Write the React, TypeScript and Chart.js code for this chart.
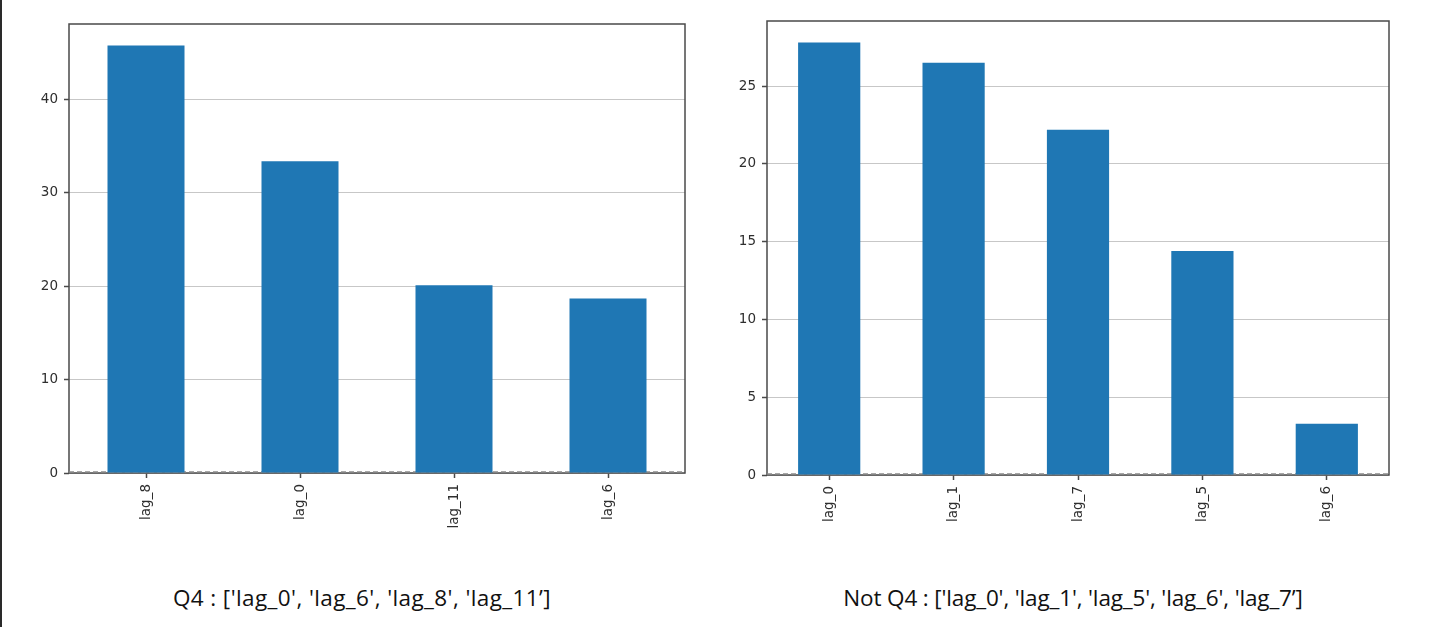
import React, { useEffect, useRef } from "react";
import { Chart, registerables } from "chart.js";

Chart.register(...registerables);

// ---- data ----
const q4Labels = ["lag_8", "lag_0", "lag_11", "lag_6"];
const q4Values = [45.8, 33.4, 20.1, 18.7];
const q4Ticks = [0, 10, 20, 30, 40];
const q4Caption = "Q4 : ['lag_0', 'lag_6', 'lag_8', 'lag_11\u2019]";

const notQ4Labels = ["lag_0", "lag_1", "lag_7", "lag_5", "lag_6"];
const notQ4Values = [27.8, 26.5, 22.2, 14.4, 3.3];
const notQ4Ticks = [0, 5, 10, 15, 20, 25];
const notQ4Caption = "Not Q4 : ['lag_0', 'lag_1', 'lag_5', 'lag_6', 'lag_7\u2019]";

const BAR_COLOR = "#1f77b4";
const SPINE = "#4a4a4a";
const TICK_TEXT = "#2e2e2e";
const GRID = "rgba(180,180,180,0.75)";

const framePlugin = {
  id: "frame",
  beforeDatasetsDraw(chart: any) {
    const { ctx, chartArea } = chart;
    const y0 = chart.scales.y.getPixelForValue(0);
    ctx.save();
    ctx.strokeStyle = SPINE;
    ctx.lineWidth = 1.5;
    ctx.strokeRect(chartArea.left, chartArea.top, chartArea.right - chartArea.left, chartArea.bottom - chartArea.top);
    ctx.strokeStyle = "#8a8a8a";
    ctx.lineWidth = 1.5;
    ctx.setLineDash([5, 3]);
    ctx.beginPath();
    ctx.moveTo(chartArea.left, y0 - 1);
    ctx.lineTo(chartArea.right, y0 - 1);
    ctx.stroke();
    ctx.restore();
  },
};

type Props = {
  labels: string[];
  values: number[];
  ticks: number[];
  left: number;
  width: number;
  height: number;
  padTop: number;
  padRight: number;
  yAxisWidth: number;
  xAxisHeight: number;
};

function BarPanel(p: Props) {
  const ref = useRef<HTMLCanvasElement | null>(null);
  useEffect(() => {
    if (!ref.current) return;
    const maxY = Math.max(...p.values) * 1.05;
    const chart = new Chart(ref.current, {
      type: "bar",
      data: {
        labels: p.labels,
        datasets: [
          {
            data: p.values,
            backgroundColor: BAR_COLOR,
            borderWidth: 0,
            categoryPercentage: 1,
            barPercentage: 0.5,
          },
        ],
      },
      options: {
        animation: false,
        responsive: false,
        maintainAspectRatio: false,
        layout: { padding: { top: p.padTop, right: p.padRight, left: 0, bottom: 0 } },
        plugins: { legend: { display: false }, tooltip: { enabled: false } },
        scales: {
          x: {
            offset: true,
            grid: { display: true, drawOnChartArea: false, offset: false, tickLength: 5, tickColor: SPINE, tickWidth: 1.5 },
            border: { display: false },
            ticks: {
              minRotation: 90,
              maxRotation: 90,
              autoSkip: false,
              padding: 6,
              color: TICK_TEXT,
              font: { family: "DejaVu Sans", size: 13.5 },
            },
            afterFit(scale: any) {
              scale.height = p.xAxisHeight;
            },
          },
          y: {
            min: 0,
            max: maxY,
            z: 1,
            afterBuildTicks(scale: any) {
              scale.ticks = p.ticks.map((v) => ({ value: v }));
            },
            grid: { color: GRID, lineWidth: 1, tickLength: 5, tickColor: SPINE, tickWidth: 1.5 },
            border: { display: false },
            ticks: {
              padding: 6,
              color: TICK_TEXT,
              font: { family: "DejaVu Sans", size: 13.5 },
            },
            afterFit(scale: any) {
              scale.width = p.yAxisWidth;
            },
          },
        },
      },
      plugins: [framePlugin],
    } as any);
    return () => chart.destroy();
  }, []);
  return (
    <canvas
      ref={ref}
      width={p.width}
      height={p.height}
      style={{ position: "absolute", left: p.left, top: 0, width: p.width, height: p.height }}
    />
  );
}

const captionStyle: React.CSSProperties = {
  position: "absolute",
  top: 582,
  fontFamily: "'Open Sans', 'Liberation Sans', sans-serif",
  fontSize: 22.5,
  lineHeight: "32px",
  color: "#111",
  whiteSpace: "nowrap",
  transform: "translateX(-50%)",
};

export default function App() {
  return (
    <div
      style={{
        position: "fixed",
        left: 0,
        top: 0,
        width: 1440,
        height: 627,
        background: "#fff",
        overflow: "hidden",
      }}
    >
      <div style={{ position: "absolute", left: 0, top: 0, width: 2, height: 627, background: "#2a2a2a" }} />
      <BarPanel
        labels={q4Labels}
        values={q4Values}
        ticks={q4Ticks}
        left={0}
        width={700}
        height={560}
        padTop={24}
        padRight={15}
        yAxisWidth={69}
        xAxisHeight={87}
      />
      <BarPanel
        labels={notQ4Labels}
        values={notQ4Values}
        ticks={notQ4Ticks}
        left={700}
        width={740}
        height={560}
        padTop={21}
        padRight={51}
        yAxisWidth={67}
        xAxisHeight={85}
      />
      <div style={{ ...captionStyle, left: 362, letterSpacing: 0.4 }}>{q4Caption}</div>
      <div style={{ ...captionStyle, left: 1073, letterSpacing: -0.15 }}>{notQ4Caption}</div>
    </div>
  );
}
